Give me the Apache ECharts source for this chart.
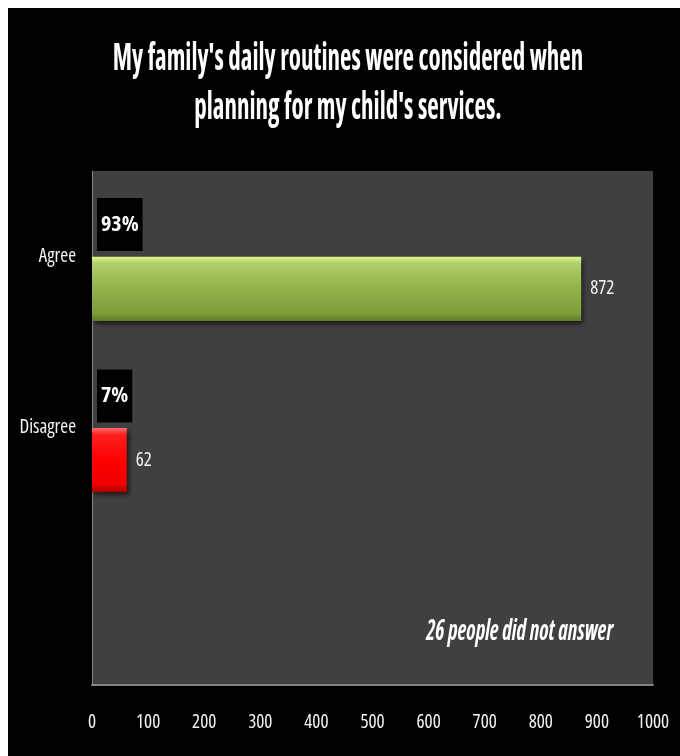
<!DOCTYPE html>
<html>
<head>
<meta charset="utf-8">
<script src="https://cdn.jsdelivr.net/npm/echarts@6/dist/echarts.min.js"></script>
<style>
  html, body { margin: 0; padding: 0; background: #ffffff; }
  #chart { position: absolute; left: 8px; top: 8px; width: 672px; height: 748px; background: #000000; }
</style>
</head>
<body>
<div id="chart"></div>
<script>
var categories = ['Agree', 'Disagree', ''];
var counts = [872, 62, null];
var percents = [93, 7, null];
var xTicks = [0, 100, 200, 300, 400, 500, 600, 700, 800, 900, 1000];
var titleText = "My family's daily routines were considered when\nplanning for my child's services.";
var noteText = '26 people did not answer';

var FONT = '"Open Sans", "Roboto", sans-serif';
var W_NORMAL = 'normal condensed';
var W_BOLD = 'bold condensed';

var greenGrad = new echarts.graphic.LinearGradient(0, 0, 0, 1, [
  { offset: 0, color: '#e0fb90' },
  { offset: 0.1, color: '#b2d06a' },
  { offset: 0.45, color: '#94b44c' },
  { offset: 0.88, color: '#7f9e3a' },
  { offset: 1, color: '#5e7a26' }
]);
var redGrad = new echarts.graphic.LinearGradient(0, 0, 0, 1, [
  { offset: 0, color: '#ff7070' },
  { offset: 0.1, color: '#ff2020' },
  { offset: 0.5, color: '#ff0000' },
  { offset: 0.88, color: '#ee0000' },
  { offset: 1, color: '#a80000' }
]);
var barColors = [greenGrad, redGrad];

var chart = echarts.init(document.getElementById('chart'), null, { renderer: 'canvas' });
chart.setOption({
  backgroundColor: '#000000',
  animation: false,
  grid: {
    left: 84,
    top: 163,
    right: 27,
    bottom: 71,
    show: true,
    backgroundColor: '#404040',
    borderWidth: 0
  },
  xAxis: {
    type: 'value',
    min: 0,
    max: 1000,
    interval: 100,
    axisLine: { show: true, lineStyle: { color: '#858585', width: 2 } },
    axisTick: { show: false },
    splitLine: { show: false },
    axisLabel: {
      color: '#f2f2f2',
      fontFamily: FONT,
      fontWeight: W_NORMAL,
      fontSize: 19,
      margin: 28,
      formatter: function (v) { return xTicks.indexOf(v) >= 0 ? String(v) : ''; }
    }
  },
  yAxis: {
    type: 'category',
    inverse: true,
    data: categories,
    axisLine: { show: true, lineStyle: { color: '#858585', width: 1 } },
    axisTick: { show: false },
    splitLine: { show: false },
    axisLabel: {
      color: '#f2f2f2',
      fontFamily: FONT,
      fontWeight: W_NORMAL,
      fontSize: 19,
      margin: 16
    }
  },
  series: [
    {
      name: 'Percent',
      type: 'bar',
      data: percents,
      barGap: '0%',
      barCategoryGap: '25%',
      itemStyle: { color: 'rgba(0,0,0,0)' },
      label: {
        show: true,
        position: 'insideLeft',
        distance: 5,
        formatter: '{c}%',
        color: '#ffffff',
        fontFamily: FONT,
        fontWeight: W_BOLD,
        fontSize: 22,
        lineHeight: 25,
        backgroundColor: '#000000',
        padding: [14, 4, 14, 4]
      },
      silent: true
    },
    {
      name: 'Count',
      type: 'bar',
      data: counts.map(function (v, i) {
        return { value: v, itemStyle: { color: barColors[i] || '#888' } };
      }),
      barGap: '0%',
      barCategoryGap: '25%',
      itemStyle: {
        shadowColor: 'rgba(0,0,0,0.7)',
        shadowBlur: 5,
        shadowOffsetX: 2,
        shadowOffsetY: 3
      },
      label: {
        show: true,
        position: 'right',
        distance: 9,
        color: '#f2f2f2',
        fontFamily: FONT,
        fontWeight: W_NORMAL,
        fontSize: 19
      }
    }
  ],
  graphic: [
    {
      type: 'text',
      x: 340,
      y: 76,
      scaleY: 1.5,
      style: {
        text: titleText,
        fill: '#ffffff',
        font: 'normal bold condensed 25px ' + FONT,
        lineHeight: 32.7,
        align: 'center',
        verticalAlign: 'middle'
      }
    },
    {
      type: 'text',
      x: 605,
      y: 624,
      scaleY: 1.35,
      style: {
        text: noteText,
        fill: '#ffffff',
        font: 'italic bold condensed 21px ' + FONT,
        align: 'right',
        verticalAlign: 'middle'
      }
    }
  ]
});
</script>
</body>
</html>
